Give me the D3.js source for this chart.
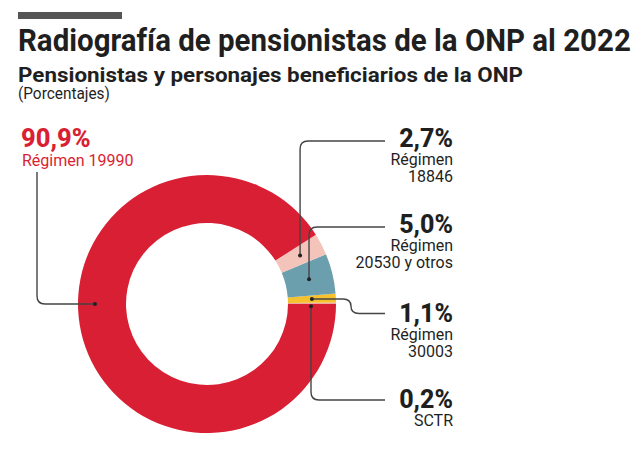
<!DOCTYPE html>
<html>
<head>
<meta charset="utf-8">
<script src="https://cdn.jsdelivr.net/npm/d3@7"></script>
<style>
  html, body { margin: 0; padding: 0; background: #fff; }
  svg { display: block; font-family: Roboto, "Open Sans", sans-serif; }
</style>
</head>
<body>
<svg id="chart" width="640" height="459"></svg>
<script>
// ---- data ----
const categories = ["SCTR", "Régimen 30003", "Régimen 20530 y otros", "Régimen 18846", "Régimen 19990"];
const values = [0.2, 1.1, 5.0, 2.7, 90.9];
const valueLabels = ["0,2%", "1,1%", "5,0%", "2,7%", "90,9%"];
const labelLines = [["SCTR"], ["Régimen", "30003"], ["Régimen", "20530 y otros"], ["Régimen", "18846"], ["Régimen 19990"]];
const colors = ["#eba9a3", "#f6c12e", "#6b9fae", "#f4c4ba", "#d91f33"];

const title = "Radiografía de pensionistas de la ONP al 2022";
const subtitle = "Pensionistas y personajes beneficiarios de la ONP";
const unitNote = "(Porcentajes)";

// ---- layout ----
const svg = d3.select("#chart");
const cx = 207, cy = 304, rOuter = 129, rInner = 81;
const dark = "#1f1f1f", lineCol = "#444";

// fit a text horizontally to a target width by scaling
function fitText(sel, x, y, width) {
  const w = sel.node().getComputedTextLength();
  const s = width / w;
  sel.attr("x", 0).attr("y", 0)
     .attr("transform", `translate(${x},${y}) scale(${s},1)`);
}

// header
svg.append("rect").attr("x", 18).attr("y", 12).attr("width", 104).attr("height", 7).attr("fill", "#555");
fitText(svg.append("text").text(title)
  .attr("font-size", 31).attr("font-weight", 700).attr("fill", dark), 18, 51, 613);
fitText(svg.append("text").text(subtitle)
  .attr("font-size", 20.5).attr("font-weight", 700).attr("fill", dark), 18, 82, 505);
fitText(svg.append("text").text(unitNote)
  .attr("font-size", 16.5).attr("fill", dark), 18, 99, 92);

// donut (counter-clockwise from 3 o'clock)
const pie = d3.pie().sort(null).value(d => d)
  .startAngle(Math.PI / 2).endAngle(Math.PI / 2 - 2 * Math.PI);
const arcs = pie(values);
const arc = d3.arc().innerRadius(rInner).outerRadius(rOuter);
const g = svg.append("g").attr("transform", `translate(${cx},${cy})`);
g.selectAll("path.slice").data(arcs).join("path")
  .attr("class", "slice")
  .attr("d", arc)
  .attr("fill", (d, i) => colors[i]);

// anchor points
const anchors = arcs.map((d, i) => {
  const c = arc.centroid(d);
  return [cx + c[0], cy + c[1]];
});
// main slice anchor on the left side of the ring
anchors[4] = [cx - (rInner + rOuter) / 2 - 7, cy];
anchors[0] = [anchors[0][0] - 1, anchors[0][1] + 3];

const lineEnd = 385;
const r = 8;
const paths = [];
// SCTR: down then right
{
  const [ax, ay] = anchors[0];
  const yb = 400;
  paths.push(`M${ax},${ay} L${ax},${yb - r} Q${ax},${yb} ${ax + r},${yb} L${lineEnd},${yb}`);
}
// 30003: right, step down, right
{
  const [ax, ay] = anchors[1];
  const y2 = 313.5, xs = 351;
  paths.push(`M${ax},${ay} L${xs - 8},${ay} Q${xs},${ay} ${xs},${(ay + y2) / 2} Q${xs},${y2} ${xs + 8},${y2} L${lineEnd},${y2}`);
}
// 20530: from label left, then down
{
  const [ax, ay] = anchors[2];
  const yt = 227;
  paths.push(`M${lineEnd},${yt} L${ax + r},${yt} Q${ax},${yt} ${ax},${yt + r} L${ax},${ay}`);
}
// 18846
{
  const [ax, ay] = anchors[3];
  const yt = 141;
  paths.push(`M${lineEnd},${yt} L${ax + r},${yt} Q${ax},${yt} ${ax},${yt + r} L${ax},${ay}`);
}
// 19990: left label down, then right to ring
{
  const [ax, ay] = anchors[4];
  const xl = 37, yt = 172;
  paths.push(`M${xl},${yt} L${xl},${ay - r} Q${xl},${ay} ${xl + r},${ay} L${ax},${ay}`);
}
svg.selectAll("path.leader").data(paths).join("path")
  .attr("class", "leader").attr("d", d => d)
  .attr("fill", "none").attr("stroke", lineCol).attr("stroke-width", 1.4);
svg.selectAll("circle.dot").data(anchors).join("circle")
  .attr("class", "dot").attr("cx", d => d[0]).attr("cy", d => d[1]).attr("r", 2)
  .attr("fill", "#222");

// right labels
const labelX = 453;
const rightBase = [408, 321.5, 232.5, 147];
rightBase.forEach((yb, i) => {
  svg.append("text").attr("x", labelX).attr("y", yb).attr("text-anchor", "end")
    .attr("font-size", 25).attr("font-weight", 800).attr("fill", dark)
    .text(valueLabels[i]);
  labelLines[i].forEach((t, j) => {
    svg.append("text").attr("x", labelX).attr("y", yb + 18 + j * 17.3).attr("text-anchor", "end")
      .attr("font-size", 16).attr("fill", dark).text(t);
  });
});

// left label (main slice)
svg.append("text").attr("x", 21).attr("y", 146.5)
  .attr("font-size", 25.5).attr("font-weight", 800).attr("fill", colors[4])
  .text(valueLabels[4]);
svg.append("text").attr("x", 22).attr("y", 165.5)
  .attr("font-size", 16).attr("fill", colors[4]).text(labelLines[4][0]);
</script>
</body>
</html>
